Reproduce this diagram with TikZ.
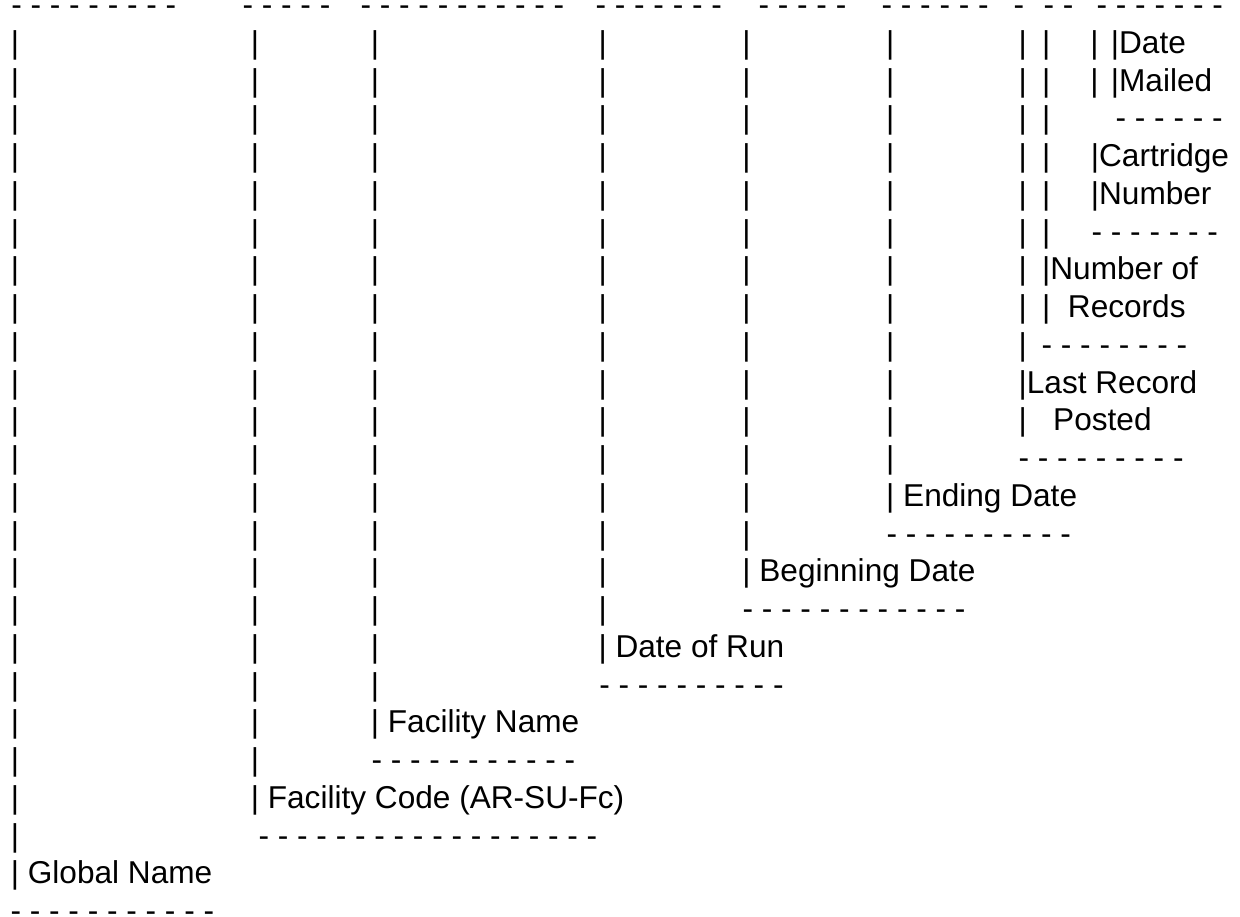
\documentclass[tikz,border=0pt]{standalone}
\usepackage{fontspec}
\setmainfont{Liberation Sans}
\tikzset{
  txt/.style={anchor=base west, inner sep=0pt, outer sep=0pt, font=\fontsize{31.6}{37.75}\selectfont},
  vbar/.style={anchor=base, inner sep=0pt, outer sep=0pt, font=\fontsize{31.6}{37.75}\selectfont}
}
\newcommand\rowy[1]{15.5+37.75*#1}
\begin{document}
\begin{tikzpicture}[x=1pt,y=-1pt]
\useasboundingbox[fill=white] (0,0) rectangle (1240,916);
% top row of dashes
\node[txt] (g1) at (11.3,{\rowy{0}}) {- - - - - - - - -};
\node[txt] (g2) at (242.6,{\rowy{0}}) {- - - - -};
\node[txt] (g3) at (360.6,{\rowy{0}}) {- - - - - - - - - - -};
\node[txt] (g4) at (595.6,{\rowy{0}}) {- - - - - - -};
\node[txt] (g5) at (758.6,{\rowy{0}}) {- - - - -};
\node[txt] (g6) at (881.6,{\rowy{0}}) {- - - - - -};
\node[txt] (g7) at (1013.6,{\rowy{0}}) {-};
\node[txt] (g8) at (1043.6,{\rowy{0}}) {- -};
\node[txt] (g9) at (1096.6,{\rowy{0}}) {- - - - - - -};
% vertical bars
\foreach \c/\x/\n in {1/15/22, 2/255/20, 3/375/18, 4/602.7/16, 5/746.5/14, 6/890.3/12, 7/1022.8/9, 8/1046.3/6, 9/1094.5/2}{
  \foreach \k in {1,...,\n}{
    \node[vbar] (b\c-\k) at (\x,{\rowy{\k}}) {|};
  }
}
% labels and their rules
\node[txt] (date)   at (1110.9,{\rowy{1}}) {|Date};
\node[txt] (mailed) at (1110.9,{\rowy{2}}) {|Mailed};
\node[txt] (r3)     at (1115.6,{\rowy{3}}) {- - - - - -};
\node[txt] (cart)   at (1090.9,{\rowy{4}}) {|Cartridge};
\node[txt] (cartn)  at (1090.9,{\rowy{5}}) {|Number};
\node[txt] (r6)     at (1091.6,{\rowy{6}}) {- - - - - - -};
\node[txt] (num)    at (1042.2,{\rowy{7}}) {|Number of};
\node[txt] (rec)    at (1042.2,{\rowy{8}}) {|~~Records};
\node[txt] (r9)     at (1041.6,{\rowy{9}}) {- - - - - - - -};
\node[txt] (last)   at (1018.7,{\rowy{10}}) {|Last Record};
\node[txt] (posted) at (1018.7,{\rowy{11}}) {|~~~Posted};
\node[txt] (r12)    at (1018.6,{\rowy{12}}) {- - - - - - - - -};
\node[txt] (end)    at (886.2,{\rowy{13}}) {| Ending Date};
\node[txt] (r14)    at (886.6,{\rowy{14}}) {- - - - - - - - - -};
\node[txt] (begin)  at (742.4,{\rowy{15}}) {| Beginning Date};
\node[txt] (r16)    at (742.6,{\rowy{16}}) {- - - - - - - - - - - -};
\node[txt] (run)    at (598.6,{\rowy{17}}) {| Date of Run};
\node[txt] (r18)    at (599.3,{\rowy{18}}) {- - - - - - - - - -};
\node[txt] (fname)  at (370.9,{\rowy{19}}) {| Facility Name};
\node[txt] (r20)    at (371.6,{\rowy{20}}) {- - - - - - - - - - -};
\node[txt] (fcode)  at (250.9,{\rowy{21}}) {| Facility Code (AR-SU-Fc)};
\node[txt] (r22)    at (258.6,{\rowy{22}}) {- - - - - - - - - - - - - - - - - -};
\node[txt] (global) at (10.9,{\rowy{23}}) {| Global Name};
\node[txt] (r24)    at (10.6,{\rowy{24}}) {- - - - - - - - - - -};
\end{tikzpicture}
\end{document}
